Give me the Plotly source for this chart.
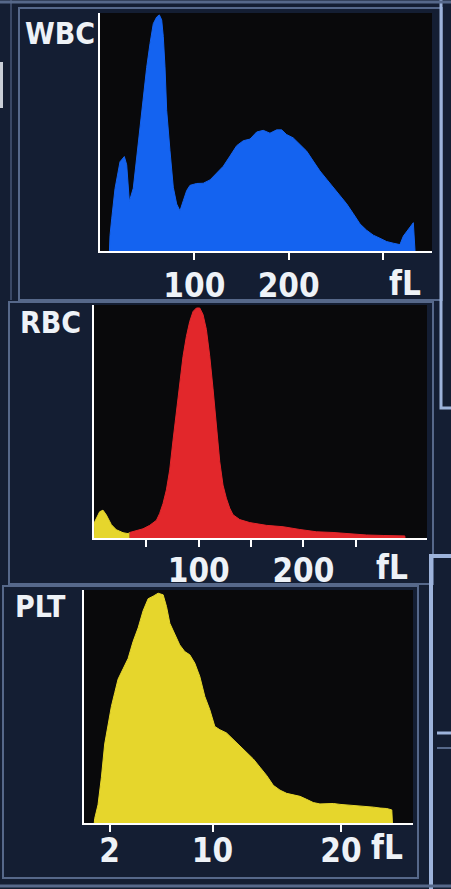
import plotly.graph_objects as go

# ---------------- data (relative counts, % of peak) ----------------
wbc_fl = [10, 10.6, 12.4, 15.9, 21.2, 25.8, 28.3, 31.1, 35.3, 38.9, 42.4,
          45.9, 49.5, 53.0, 56.5, 60.1, 62.9, 65.4, 67.1, 68.9, 70.7,
          74.2, 77.7, 81.3, 84.8, 88.3, 91.9, 95.4, 102.5, 109.5, 116.6,
          123.7, 130.7, 137.8, 144.9, 151.9, 159.0, 166.1, 173.1, 180.2, 187.3,
          192.6, 197.9, 204.9, 212.0, 219.1, 226.1, 233.2, 240.3, 247.3, 254.4,
          261.5, 268.6, 275.6, 282.7, 289.8, 296.8, 303.9, 311.0, 318.0, 321.6,
          326.9, 332.2, 334.0]
wbc_count = [0, 6.5, 13.6, 26.4, 37.8, 40.0, 36.5, 21.0, 26.6, 39.4, 53.7,
             66.5, 77.8, 87.8, 96.3, 99.1, 100, 97.9, 90.8, 78.0, 59.5,
             42.5, 27.0, 19.9, 17.0, 21.3, 25.6, 27.8, 28.6, 28.7, 30.1,
             33.0, 35.9, 40.2, 44.6, 46.7, 47.4, 50.4, 51.1, 49.9, 51.3,
             51.3, 49.3, 47.9, 45.2, 42.3, 38.1, 33.9, 30.4, 27.0, 23.4,
             20.0, 15.8, 11.5, 8.8, 6.7, 5.4, 4.0, 3.3, 2.7, 6.3,
             9.1, 12.0, 0]

rbc_small_fl = [0, 0.6, 5.4, 8.6, 11.8, 16.6, 21.3, 27.7, 32.5, 34.1]
rbc_small_count = [1.0, 7.0, 11.4, 12.1, 10.0, 5.8, 3.6, 2.3, 1.9, 2.4]

rbc_fl = [34.1, 40.4, 46.8, 53.2, 59.6, 62.7, 65.9, 69.1, 72.3, 75.5,
          78.7, 81.8, 85.0, 88.2, 91.4, 94.6, 97.8, 101.0, 104.1, 107.3,
          110.5, 113.7, 116.9, 120.1, 123.2, 126.4, 129.6, 132.8, 139.2, 148.7,
          164.6, 180.6, 196.5, 212.4, 228.3, 244.3, 260.2, 276.1, 292.0, 296.8,
          297.0]
rbc_count = [2.4, 3.2, 4.0, 5.5, 7.7, 10.7, 15.0, 20.9, 29.6, 42.6,
             54.2, 67.3, 78.9, 87.6, 94.1, 98.5, 100, 100, 97.2, 90.7,
             79.2, 64.8, 47.5, 33.1, 23.0, 17.3, 13.0, 10.1, 8.0, 6.7,
             5.5, 4.9, 3.7, 2.7, 2.4, 1.7, 1.3, 1.1, 0.9, 0.9,
             0]

plt_fl = [0.8, 0.83, 1.09, 1.35, 1.61, 1.87, 2.13, 2.39, 2.65, 3.04, 3.43,
          3.82, 4.21, 4.6, 4.99, 5.38, 5.77, 6.16, 6.42, 6.68, 7.06,
          7.45, 7.84, 8.23, 8.62, 9.01, 9.4, 9.79, 10.18, 10.57, 11.09,
          11.61, 12.13, 12.65, 13.17, 13.69, 14.21, 14.73, 15.25, 15.77, 16.29,
          16.81, 17.32, 17.84, 18.36, 18.88, 19.4, 19.92, 20.44, 20.96, 21.48,
          22.0, 22.52, 23.04, 23.56, 23.95, 24.0]
plt_count = [0, 1.9, 7.9, 19.7, 34.4, 43.3, 50.7, 56.7, 62.6, 67.1, 71.6,
             79.0, 84.9, 92.4, 97.6, 98.7, 100, 99.3, 94.2, 86.9, 82.6,
             77.5, 74.6, 73.2, 69.6, 63.8, 55.1, 49.3, 42.0, 40.6, 39.2,
             36.4, 33.5, 30.7, 27.9, 24.3, 20.7, 16.4, 14.3, 12.9, 12.3,
             11.6, 10.3, 8.9, 8.3, 8.3, 8.5, 8.1, 7.9, 7.6, 7.4,
             7.0, 6.9, 6.5, 6.3, 5.7, 0]

panel_names = ["WBC", "RBC", "PLT"]
wbc_ticks = [100, 200, 300]
wbc_ticktext = ["100", "200", ""]
rbc_ticks = [50, 100, 150, 200, 250]
rbc_ticktext = ["", "100", "", "200", ""]
plt_ticks = [2, 10, 20]
plt_ticktext = ["2", "10", "20"]
unit_label = "fL"

# ---------------- styling ----------------
W, H = 451, 889
BG = "#141e33"
BLUE = "#1463f0"
RED = "#e2272b"
YELLOW = "#e6d62c"
TXT = "#eef2f7"
FONT = "DejaVu Sans Condensed, DejaVu Sans, sans-serif"


def fx(px):
    return px / W


def fy(py):
    return 1 - py / H


fig = go.Figure()


def area(x, y, color, xa, ya):
    fig.add_trace(go.Scatter(x=x, y=y, mode="lines", fill="tozeroy",
                             fillcolor=color, line=dict(color=color, width=1),
                             xaxis=xa, yaxis=ya, hoverinfo="skip",
                             showlegend=False))


area(wbc_fl, wbc_count, BLUE, "x", "y")
area(rbc_small_fl, rbc_small_count, YELLOW, "x2", "y2")
area(rbc_fl, rbc_count, RED, "x2", "y2")
area(plt_fl, plt_count, YELLOW, "x3", "y3")

tickfont = dict(family=FONT, size=33, color=TXT, weight="bold")


def xax(dom, rng, tv, tt, anchor, standoff):
    return dict(domain=dom, range=rng, anchor=anchor, tickvals=tv, ticktext=tt,
                showline=True, linecolor="white", linewidth=2,
                ticks="outside", ticklen=7, tickwidth=2, tickcolor="white",
                showgrid=False, zeroline=False, tickfont=tickfont,
                ticklabelstandoff=standoff, fixedrange=True)


def yax(dom, rng, anchor):
    return dict(domain=dom, range=rng, anchor=anchor, showline=True,
                linecolor="white", linewidth=2, showticklabels=False,
                ticks="", showgrid=False, zeroline=False, fixedrange=True)


# panel geometry (pixels)
wbc_box = dict(x0=100, x1=432, y0=13, y1=251)
rbc_box = dict(x0=94, x1=427, y0=305, y1=538)
plt_box = dict(x0=84, x1=413, y0=590, y1=823)

fig.update_layout(
    width=W, height=H,
    margin=dict(l=0, r=0, t=0, b=0),
    paper_bgcolor=BG,
    plot_bgcolor="#09090b",
    showlegend=False,
    xaxis=xax([fx(wbc_box["x0"]), fx(wbc_box["x1"])], [0, 352],
              wbc_ticks, wbc_ticktext, "y", -3),
    yaxis=yax([fy(wbc_box["y1"]), fy(wbc_box["y0"])], [0, 100.8], "x"),
    xaxis2=xax([fx(rbc_box["x0"]), fx(rbc_box["x1"])], [0, 318],
               rbc_ticks, rbc_ticktext, "y2", -5),
    yaxis2=yax([fy(rbc_box["y1"]), fy(rbc_box["y0"])], [0, 101.3], "x2"),
    xaxis3=xax([fx(plt_box["x0"]), fx(plt_box["x1"])], [0, 25.6],
               plt_ticks, plt_ticktext, "y3", -10),
    yaxis3=yax([fy(plt_box["y1"]), fy(plt_box["y0"])], [0, 101.4], "x3"),
)

# panel frames and surrounding screen elements
FRAME = "#56688a"
BRIGHT = "#9db3db"
shapes = [
    dict(type="rect", xref="paper", yref="paper", x0=fx(19), x1=fx(442),
         y0=fy(300), y1=fy(8), line=dict(color=FRAME, width=2), layer="below"),
    dict(type="rect", xref="paper", yref="paper", x0=fx(9), x1=fx(433),
         y0=fy(584), y1=fy(302), line=dict(color=FRAME, width=2), layer="below"),
    dict(type="rect", xref="paper", yref="paper", x0=fx(3), x1=fx(418),
         y0=fy(878), y1=fy(586), line=dict(color=FRAME, width=2), layer="below"),
    dict(type="line", xref="paper", yref="paper", x0=fx(11), x1=fx(11),
         y0=fy(0), y1=fy(300), line=dict(color="#3a4866", width=2)),
    dict(type="line", xref="paper", yref="paper", x0=fx(1.5), x1=fx(1.5),
         y0=fy(62), y1=fy(108), line=dict(color="#c9cfd8", width=3)),
    # right side screen widgets
    dict(type="path", xref="paper", yref="paper",
         path=f"M {fx(441)} {fy(0)} L {fx(441)} {fy(408)} L {fx(451)} {fy(408)}",
         line=dict(color=BRIGHT, width=3)),
    dict(type="path", xref="paper", yref="paper",
         path=f"M {fx(451)} {fy(556)} L {fx(431)} {fy(556)} L {fx(431)} {fy(889)}",
         line=dict(color=BRIGHT, width=4)),
    dict(type="line", xref="paper", yref="paper", x0=fx(437), x1=fx(451),
         y0=fy(733), y1=fy(733), line=dict(color=BRIGHT, width=3)),
    dict(type="line", xref="paper", yref="paper", x0=fx(437), x1=fx(451),
         y0=fy(748), y1=fy(748), line=dict(color=FRAME, width=2)),
    dict(type="line", xref="paper", yref="paper", x0=fx(0), x1=fx(451),
         y0=fy(2), y1=fy(2), line=dict(color=FRAME, width=3)),
    dict(type="line", xref="paper", yref="paper", x0=fx(0), x1=fx(451),
         y0=fy(886), y1=fy(886), line=dict(color=FRAME, width=3)),
]
fig.update_layout(shapes=shapes)

labfont = dict(family=FONT, size=30, color=TXT, weight="bold")


def ann(text, x, xref, py, font):
    return dict(text=text, x=x, xref=xref, y=fy(py), yref="paper",
                xanchor="center", yanchor="middle", showarrow=False, font=font)


annotations = [
    ann(panel_names[0], fx(60), "paper", 33, labfont),
    ann(panel_names[1], fx(50), "paper", 322, labfont),
    ann(panel_names[2], fx(40), "paper", 606, labfont),
    ann(unit_label, 323, "x", 283, tickfont),
    ann(unit_label, 285, "x2", 567, tickfont),
    ann(unit_label, 23.6, "x3", 847, tickfont),
]
fig.update_layout(annotations=annotations)

fig.write_html(
    "out.html",
    config={"displayModeBar": False, "staticPlot": True},
    post_script="document.body.style.margin='0';"
                "document.body.style.overflow='hidden';"
                "document.body.style.background='#141e33';",
)
